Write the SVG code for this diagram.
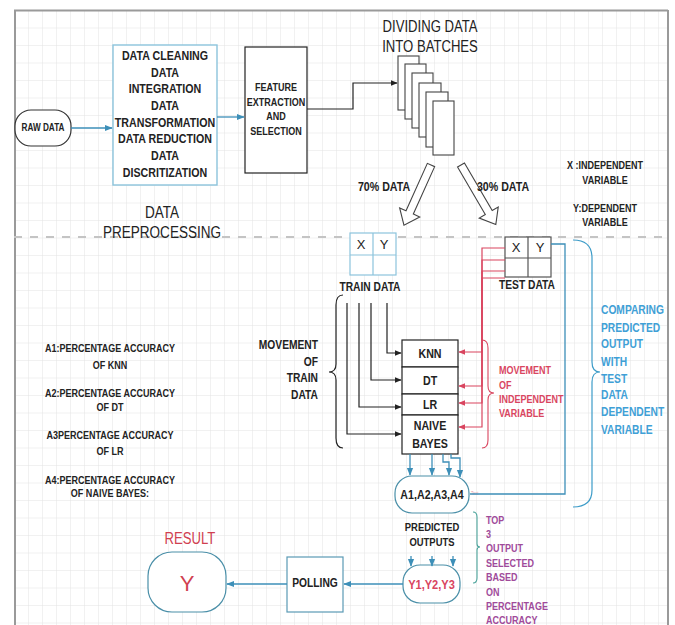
<svg xmlns="http://www.w3.org/2000/svg" width="675" height="625" viewBox="0 0 675 625">
<defs>
<pattern id="grid" x="14" y="10" width="14" height="17.5" patternUnits="userSpaceOnUse">
<path d="M0,0 V17.5 M0,0 H14" fill="none" stroke="#e3e3e3" stroke-width="1"/>
</pattern>
<marker id="ab" viewBox="0 0 10 10" refX="9" refY="5" markerWidth="6" markerHeight="6" orient="auto"><path d="M0,1 L10,5 L0,9 Z" fill="#3d8fb8"/></marker>
<marker id="ak" viewBox="0 0 10 10" refX="9" refY="5" markerWidth="6" markerHeight="6" orient="auto"><path d="M0,1 L10,5 L0,9 Z" fill="#222"/></marker>
<marker id="ar" viewBox="0 0 10 10" refX="9" refY="5" markerWidth="6" markerHeight="6" orient="auto"><path d="M0,1 L10,5 L0,9 Z" fill="#d9455f"/></marker>
</defs>
<style>
text{font-family:"Liberation Sans",Arial,sans-serif;fill:#222;transform-box:fill-box;transform-origin:center;transform:scaleX(.82)}
.s{transform-origin:left center}
.e{text-anchor:end;transform-origin:right center}
.w{transform:none}
.b{font-weight:bold}
.m{text-anchor:middle}
.blu{fill:#3fa0d6}
.red{fill:#d9455f}
.pur{fill:#a04a9a}
.res{fill:#d04050}
.cb{fill:none;stroke:#3d8fb8;stroke-width:1.3}
.ck{fill:none;stroke:#222;stroke-width:1.2}
.cr{fill:none;stroke:#d9455f;stroke-width:1.2}
.box{fill:#fff;stroke:#222;stroke-width:1.2}
</style>
<rect x="0" y="0" width="675" height="625" fill="#fff"/>
<rect x="14" y="10" width="654" height="615" fill="url(#grid)"/>
<path d="M15,10 V625 M14,10.5 H668 M668,10 V625" stroke="#9a9a9a" stroke-width="2" fill="none"/>
<path d="M14,237 H668" stroke="#c4c4c4" stroke-width="2" stroke-dasharray="8 8" fill="none"/>

<g id="raw-data">
<rect x="15" y="110" width="56" height="36" rx="16" fill="#fff" stroke="#333" stroke-width="1.2"/>
<text x="43" y="131.5" class="b m" font-size="10">RAW DATA</text>
</g>

<g id="preprocessing">
<rect x="113" y="45" width="104" height="140" fill="#fff" stroke="#8cc4dc" stroke-width="1.4"/>
<text x="165" y="60.5" class="b m" font-size="13">DATA CLEANING</text>
<text x="165" y="77" class="b m" font-size="13">DATA</text>
<text x="165" y="93.5" class="b m" font-size="13">INTEGRATION</text>
<text x="165" y="110.5" class="b m" font-size="13">DATA</text>
<text x="165" y="127.5" class="b m" font-size="13">TRANSFORMATION</text>
<text x="165" y="143.5" class="b m" font-size="13">DATA REDUCTION</text>
<text x="165" y="160.5" class="b m" font-size="13">DATA</text>
<text x="165" y="177.5" class="b m" font-size="13">DISCRITIZATION</text>
<text x="162" y="218" class="m" font-size="16.5">DATA</text>
<text x="162" y="238" class="m" font-size="16.5">PREPROCESSING</text>
</g>

<g id="feature">
<rect x="245" y="47" width="62" height="126" class="box"/>
<text x="276" y="91" class="b m" font-size="11">FEATURE</text>
<text x="276" y="106" class="b m" font-size="11">EXTRACTION</text>
<text x="276" y="120" class="b m" font-size="11">AND</text>
<text x="276" y="135" class="b m" font-size="11">SELECTION</text>
</g>

<g id="batches">
<text x="430" y="32" class="m" font-size="16">DIVIDING DATA</text>
<text x="430" y="52" class="m" font-size="16">INTO BATCHES</text>
<rect x="398" y="56" width="21" height="54" fill="#fff" stroke="#444" stroke-width="1.1"/>
<rect x="405" y="64" width="21" height="55" fill="#fff" stroke="#444" stroke-width="1.1"/>
<rect x="412" y="73" width="21" height="55" fill="#fff" stroke="#444" stroke-width="1.1"/>
<rect x="419" y="83" width="22" height="54" fill="#fff" stroke="#444" stroke-width="1.1"/>
<rect x="426" y="92" width="22" height="55" fill="#fff" stroke="#444" stroke-width="1.1"/>
<rect x="433" y="101" width="21" height="54" fill="#fff" stroke="#444" stroke-width="1.1"/>
</g>

<g id="split-arrows">
<polygon transform="translate(431,165) rotate(114.2)" points="0,-4 52,-4 52,-11 66,0 52,11 52,4 0,4" fill="#fff" stroke="#444" stroke-width="1.1"/>
<polygon transform="translate(461,165) rotate(59.7)" points="0,-4 55,-4 55,-11 69,0 55,11 55,4 0,4" fill="#fff" stroke="#444" stroke-width="1.1"/>
<text x="384" y="191" class="b m" font-size="13">70% DATA</text>
<text x="503" y="191" class="b m" font-size="13">30% DATA</text>
</g>

<g id="legend-xy">
<text x="605" y="169" class="b m" font-size="11">X :INDEPENDENT</text>
<text x="605" y="184" class="b m" font-size="11">VARIABLE</text>
<text x="605" y="212" class="b m" font-size="11">Y:DEPENDENT</text>
<text x="605" y="226" class="b m" font-size="11">VARIABLE</text>
</g>

<g id="train-data">
<rect x="350" y="233" width="46" height="42" fill="#fff" stroke="#8cc4dc" stroke-width="1.2"/>
<path d="M373,233 V275 M350,255 H396" stroke="#8cc4dc" stroke-width="1.2"/>
<text x="361" y="249" class="m w" font-size="13">X</text>
<text x="384" y="249" class="m w" font-size="13">Y</text>
<text x="370" y="291.5" class="b m" font-size="12.5">TRAIN DATA</text>
</g>

<g id="test-data">
<rect x="505" y="237" width="46" height="40" fill="#fff" stroke="#555" stroke-width="1.2"/>
<path d="M528,237 V277 M505,258 H551" stroke="#555" stroke-width="1.2"/>
<text x="516" y="252" class="m w" font-size="13">X</text>
<text x="540" y="252" class="m w" font-size="13">Y</text>
<text x="527" y="289.5" class="b m" font-size="12.5">TEST DATA</text>
</g>

<g id="models">
<g id="knn"><rect x="402" y="340" width="56" height="27" class="box"/><text x="430" y="358.5" class="b m" font-size="13">KNN</text></g>
<g id="dt"><rect x="402" y="367" width="56" height="27" class="box"/><text x="430" y="385.5" class="b m" font-size="13">DT</text></g>
<g id="lr"><rect x="402" y="394" width="56" height="21" class="box"/><text x="430" y="409.5" class="b m" font-size="13">LR</text></g>
<g id="nb"><rect x="402" y="415" width="56" height="39" class="box"/><text x="430" y="430.5" class="b m" font-size="13">NAIVE</text><text x="430" y="448.5" class="b m" font-size="13">BAYES</text></g>
</g>

<g id="accuracies">
<rect x="395" y="476" width="74" height="37" rx="17" fill="#fff" stroke="#4a8fa8" stroke-width="1.2"/>
<text x="432" y="499" class="b m" font-size="13">A1,A2,A3,A4</text>
<text x="471" y="495" class="s" font-size="5" style="fill:#e8a0a8">Text</text>
</g>

<g id="predicted-label">
<text x="432" y="531" class="b m" font-size="11.5">PREDICTED</text>
<text x="432" y="546" class="b m" font-size="11.5">OUTPUTS</text>
</g>

<g id="top3">
<rect x="403" y="565" width="57" height="38" rx="17" fill="#fff" stroke="#4a8fa8" stroke-width="1.2"/>
<text x="431.5" y="589" class="b m red" font-size="13.5">Y1,Y2,Y3</text>
</g>

<g id="polling">
<rect x="287" y="557" width="56" height="55" fill="#fff" stroke="#5a9ab5" stroke-width="1.2"/>
<text x="315" y="587.5" class="b m" font-size="12.5">POLLING</text>
</g>

<g id="result">
<text x="190" y="544" class="m res" font-size="16">RESULT</text>
<rect x="148" y="552" width="78" height="60" rx="24" fill="#fff" stroke="#4a8fa8" stroke-width="1.2"/>
<text x="187" y="591" class="m res w" font-size="22">Y</text>
</g>

<g id="notes">
<text x="110" y="352" class="b m" font-size="11">A1:PERCENTAGE ACCURACY</text>
<text x="110" y="369" class="b m" font-size="11">OF KNN</text>
<text x="110" y="397" class="b m" font-size="11">A2:PERCENTAGE ACCURACY</text>
<text x="110" y="411" class="b m" font-size="11">OF DT</text>
<text x="110" y="439" class="b m" font-size="11">A3PERCENTAGE ACCURACY</text>
<text x="110" y="455" class="b m" font-size="11">OF LR</text>
<text x="110" y="484" class="b m" font-size="11">A4:PERCENTAGE ACCURACY</text>
<text x="110" y="497" class="b m" font-size="11">OF NAIVE BAYES:</text>

<text x="318" y="349.5" class="b e" font-size="12.5">MOVEMENT</text>
<text x="318" y="366.5" class="b e" font-size="12.5">OF</text>
<text x="318" y="382.5" class="b e" font-size="12.5">TRAIN</text>
<text x="318" y="399.5" class="b e" font-size="12.5">DATA</text>

<text x="499" y="374" class="b s red" font-size="11">MOVEMENT</text>
<text x="499" y="389" class="b s red" font-size="11">OF</text>
<text x="499" y="403" class="b s red" font-size="11">INDEPENDENT</text>
<text x="499" y="417" class="b s red" font-size="11">VARIABLE</text>

<text x="601" y="314.5" class="b s blu" font-size="12.5">COMPARING</text>
<text x="601" y="332" class="b s blu" font-size="12.5">PREDICTED</text>
<text x="601" y="348.5" class="b s blu" font-size="12.5">OUTPUT</text>
<text x="601" y="366" class="b s blu" font-size="12.5">WITH</text>
<text x="601" y="383" class="b s blu" font-size="12.5">TEST</text>
<text x="601" y="399.5" class="b s blu" font-size="12.5">DATA</text>
<text x="601" y="416.5" class="b s blu" font-size="12.5">DEPENDENT</text>
<text x="601" y="434" class="b s blu" font-size="12.5">VARIABLE</text>

<text x="486" y="524" class="b s pur" font-size="11">TOP</text>
<text x="486" y="538" class="b s pur" font-size="11">3</text>
<text x="486" y="552" class="b s pur" font-size="11">OUTPUT</text>
<text x="486" y="567" class="b s pur" font-size="11">SELECTED</text>
<text x="486" y="581" class="b s pur" font-size="11">BASED</text>
<text x="486" y="596" class="b s pur" font-size="11">ON</text>
<text x="486" y="610" class="b s pur" font-size="11">PERCENTAGE</text>
<text x="486" y="624" class="b s pur" font-size="11">ACCURACY</text>
</g>

<g id="connectors">
<path d="M71,128 H112" class="cb" marker-end="url(#ab)"/>
<path d="M217,117 H244" class="cb" marker-end="url(#ab)"/>
<path d="M307,109 H353 V83 H397" class="ck" marker-end="url(#ak)"/>
<path d="M387,303 V353 H401" class="ck" marker-end="url(#ak)"/>
<path d="M371,303 V380 H401" class="ck" marker-end="url(#ak)"/>
<path d="M359,303 V407 H401" class="ck" marker-end="url(#ak)"/>
<path d="M347,303 V434 H401" class="ck" marker-end="url(#ak)"/>
<path d="M505,248 H482 V352 H459" class="cr" marker-end="url(#ar)"/>
<path d="M505,260 H482 V386 H459" class="cr" marker-end="url(#ar)"/>
<path d="M505,271 H482 V403 H459" class="cr" marker-end="url(#ar)"/>
<path d="M505,278 H482 V427 H459" class="cr" marker-end="url(#ar)"/>
<path d="M551,244 H565 V494 H470" class="cb"/>
<path d="M410,454 V475" class="cb" marker-end="url(#ab)"/>
<path d="M432,454 V475" class="cb" marker-end="url(#ab)"/>
<path d="M443,454 V462 H449 V475" class="cb" marker-end="url(#ab)"/>
<path d="M451,454 V458 H460 V477" class="cb" marker-end="url(#ab)"/>
<path d="M411,556 V566" class="cb" marker-end="url(#ab)"/>
<path d="M432,556 V566" class="cb" marker-end="url(#ab)"/>
<path d="M453,556 V566" class="cb" marker-end="url(#ab)"/>
<path d="M403,584 H344" class="cb" marker-end="url(#ab)"/>
<path d="M287,584 H227" class="cb" marker-end="url(#ab)"/>
<path d="M343,295 Q336,295 336,305 V364 Q336,372 329,372 Q336,372 336,380 V438 Q336,448 343,448" class="ck"/>
<path d="M482,340 Q488,340 488,348 V386 Q488,393 494,393 Q488,393 488,400 V440 Q488,448 482,448" fill="none" stroke="#d9455f" stroke-width="1.1"/>
<path d="M573,240 Q592,240 592,258 V362 Q592,372 600,372 Q592,372 592,382 V490 Q592,507 573,507" fill="none" stroke="#3d9cc8" stroke-width="1.2"/>
<path d="M473,512 Q477,512 477,517 V544 Q477,547 480,547 Q477,547 477,550 V578 Q477,583 473,583" fill="none" stroke="#4aa39a" stroke-width="1.1"/>
</g>
</svg>
